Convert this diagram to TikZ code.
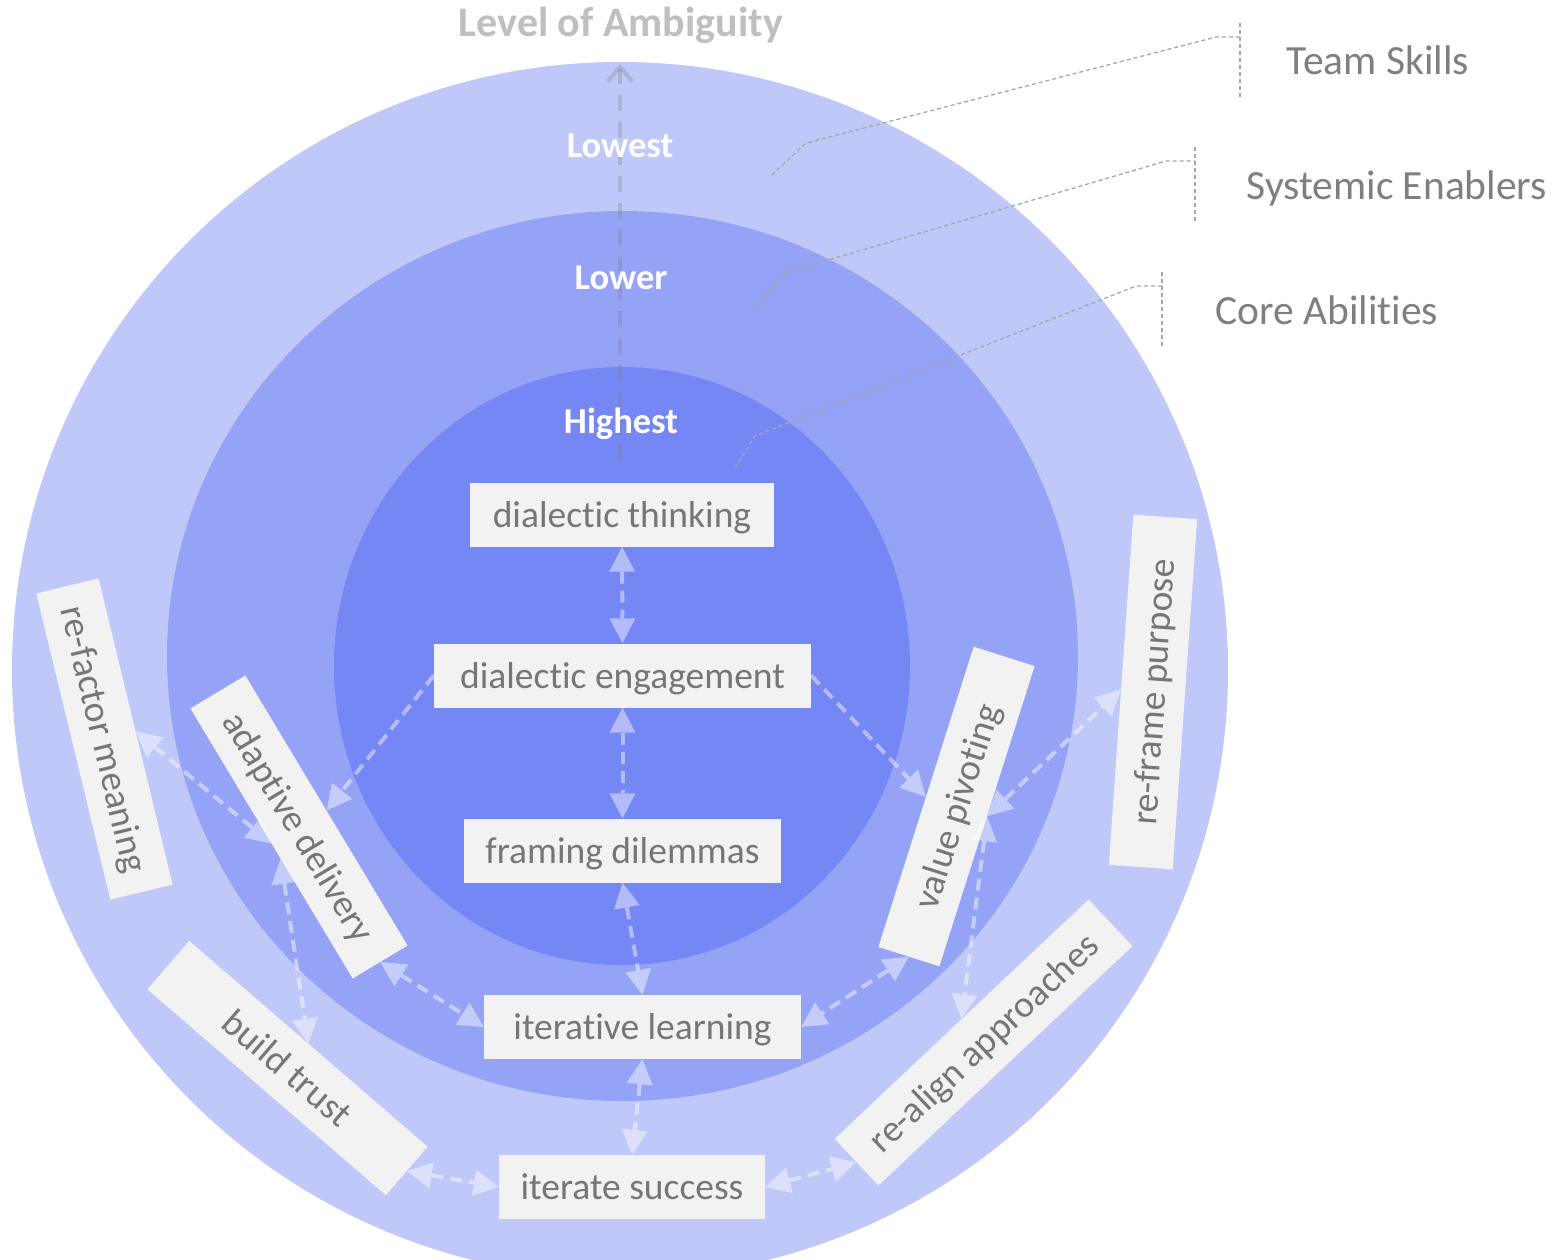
\documentclass[tikz,border=0pt]{standalone}
\usepackage{fontspec}
\setmainfont{Carlito}[Ligatures={NoCommon,NoRare,NoContextual}]
\usetikzlibrary{arrows.meta}

\definecolor{outerring}{HTML}{C0C8F9}
\definecolor{midring}{HTML}{95A3F7}
\definecolor{innerring}{HTML}{7586F5}
\definecolor{boxgray}{HTML}{F2F2F2}
\definecolor{textgray}{HTML}{767676}
\definecolor{labelgray}{HTML}{7F7F7F}

\begin{document}
\begin{tikzpicture}[x=1pt,y=-1pt,
    >={Triangle[length=25pt,width=26pt,line width=0pt]},
    ability/.style={fill=boxgray,text=textgray,font=\fontsize{37.5}{40}\selectfont,
      inner sep=0pt,minimum height=64pt,text height=28pt,text depth=3pt},
    link/.style={white,opacity=0.45,line width=4pt,dash pattern=on 12pt off 7pt},
    leader/.style={black!35,line width=1.3pt,dash pattern=on 4pt off 3pt},
    ring/.style={white,font=\fontsize{36.5}{40}\selectfont\bfseries,anchor=base},
    layer/.style={labelgray,font=\fontsize{41.5}{44}\selectfont,anchor=base west}]
  \useasboundingbox (0,0) rectangle (1561,1260);
  % the three layers
  \fill[outerring] (620,670) circle [radius=608pt];
  \fill[midring] (622.5,656) ellipse [x radius=455.5pt, y radius=445pt];
  \fill[innerring] (622,666) ellipse [x radius=288pt, y radius=299pt];

  \coordinate (amb foot) at (620,462);
  \coordinate (amb tip) at (620,64);
  \draw[gray,opacity=0.3,line width=4pt,dash pattern=on 16pt off 11pt,
    -{Straight Barb[length=14pt,width=24pt]}] (amb foot) -- (amb tip);
  \node[text=black!25,font=\fontsize{42}{44}\selectfont\bfseries,anchor=base] (ambiguity) at (621,37) {Level of Ambiguity};
  \node[ring] (lowest) at (620,158) {Lowest};
  \node[ring] (lower) at (621,289) {Lower};
  \node[ring] (highest) at (621,433) {Highest};

  % layer names
  \node[layer] (team) at (1283,75) {Team Skills};
  \node[layer] (systemic) at (1243,200) {Systemic Enablers};
  \node[layer] (core) at (1212,324) {Core Abilities};
  \coordinate (team ptr) at (772,175);
  \coordinate (team bar) at (1240,37);
  \coordinate (sys ptr) at (756,306);
  \coordinate (sys bar) at (1195,161);
  \coordinate (core ptr) at (735,468);
  \coordinate (core bar) at (1162,286);
  \draw[leader] (1240,23) -- (1240,99);
  \draw[leader] (1195,147) -- (1195,223);
  \draw[leader] (1162,272) -- (1162,348);
  \draw[leader] (team ptr) -- ++(34,-32) -- (1216,37) -- (team bar);
  \draw[leader] (sys ptr) -- ++(28,-33) -- (1166,161) -- (sys bar);
  \draw[leader] (core ptr) -- ++(20,-32) -- (1136,286) -- (core bar);

  % abilities
  \node[ability,minimum width=304pt] (think) at (622,514.5) {dialectic thinking};
  \node[ability,minimum width=377pt] (engage) at (622.5,675.5) {dialectic engagement};
  \node[ability,minimum width=317pt] (frame) at (622.5,850.5) {framing dilemmas};
  \node[ability,minimum width=317pt] (learn) at (642.5,1027) {iterative learning};
  \node[ability,minimum width=266pt] (success) at (632,1187) {iterate success};
  \node[ability,minimum width=315pt,rotate=-76.4] (refactor) at (104.5,739) {re-factor meaning};
  \node[ability,minimum width=315pt,rotate=-59] (adapt) at (299,827) {adaptive delivery};
  \node[ability,minimum width=315pt,rotate=72.4] (pivot) at (956.5,806.5) {value pivoting};
  \node[ability,minimum width=351pt,rotate=86] (reframe) at (1153,692) {re-frame purpose};
  \node[ability,minimum width=315pt,rotate=-40.8] (trust) at (287.5,1068) {build trust};
  \node[ability,minimum width=349pt,rotate=43.3] (realign) at (983.5,1042.5) {re-align approaches};

  % links
  \draw[link,<->] (think.south) -- (engage.north);
  \draw[link,<->] (engage.south) -- (frame.north);
  \draw[link,->] (engage.west) -- (adapt.north);
  \draw[link,->] (engage.east) -- (pivot.north);
  \draw[link,<->] (frame.south) -- (learn.north);
  \draw[link,<->] (adapt.east) -- (learn.west);
  \draw[link,<->] (pivot.west) -- (learn.east);
  \draw[link,<->] (learn.south) -- (success.north);
  \draw[link,<->] (trust.east) -- (success.west);
  \draw[link,<->] (success.east) -- (realign.west);
  \draw[link,<->] (refactor.north) -- (adapt.south);
  \draw[link,<->] (adapt.-61) -- (trust.north);
  \draw[link,<->] (pivot.south) -- (reframe.north);
  \draw[link,<->] (pivot.south) -- (realign.north);
\end{tikzpicture}
\end{document}
